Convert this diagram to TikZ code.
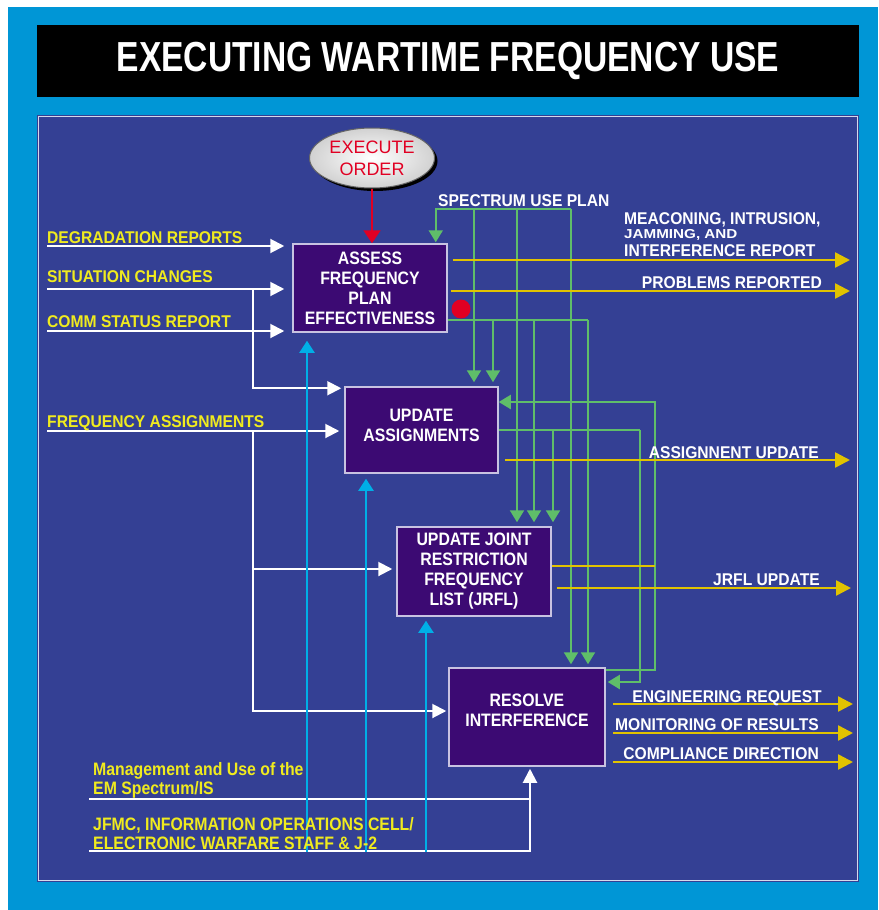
\documentclass[tikz,border=0pt]{standalone}
\usepackage{fontspec}
\newfontfamily\condfont[FakeStretch=0.88]{Liberation Sans}
\newfontfamily\labelfont[FakeStretch=0.92]{Liberation Sans}
\newfontfamily\widefont[FakeStretch=1.17]{Liberation Sans}
\newfontfamily\titlefont[FakeStretch=0.8]{Liberation Sans}
\newfontfamily\plainfont{Liberation Sans}
\usetikzlibrary{arrows.meta, positioning, shapes.geometric, shadows}
\definecolor{skyblue}{RGB}{0,150,214}
\definecolor{panelblue}{RGB}{52,64,148}
\definecolor{boxpurple}{RGB}{60,10,115}
\definecolor{boxedge}{RGB}{200,195,225}
\definecolor{flowgreen}{RGB}{95,190,105}
\definecolor{flowyellow}{RGB}{225,195,0}
\definecolor{labelyellow}{RGB}{240,235,30}
\definecolor{flowcyan}{RGB}{0,175,230}
\definecolor{alertred}{RGB}{225,0,35}

\begin{document}
\begin{tikzpicture}[x=1pt, y=-1pt,
    taskbox/.style={draw=boxedge, line width=1.5pt, fill=boxpurple, text=white,
        font=\condfont\bfseries\fontsize{18}{20}\selectfont, align=center, inner sep=0pt},
    inlabel/.style={text=labelyellow, font=\labelfont\bfseries\fontsize{17}{19}\selectfont, inner sep=0pt},
    outlabel/.style={text=white, font=\labelfont\bfseries\fontsize{17}{17}\selectfont, inner sep=0pt},
    wline/.style={white, line width=2pt},
    warrow/.style={wline, -{Triangle[length=14pt, width=14pt]}},
    gline/.style={flowgreen, line width=2pt},
    garrow/.style={gline, -{Triangle[length=12pt, width=14pt]}},
    yline/.style={flowyellow, line width=2.5pt},
    yarrow/.style={yline, -{Triangle[length=15pt, width=15pt]}},
    carrow/.style={flowcyan, line width=2pt, -{Triangle[length=12pt, width=15pt]}}
]
\useasboundingbox (0,0) rectangle (878,910);

% frame and title
\fill[white] (0,0) rectangle (878,910);
\fill[skyblue] (8,7) rectangle (878,910);
\node[fill=black, minimum width=822pt, minimum height=72pt, inner sep=0pt, text=white,
    font=\titlefont\bfseries\fontsize{42}{42}\selectfont] (title) at (448,61) {EXECUTING WARTIME FREQUENCY USE};
\fill[panelblue] (37,115) rectangle (859,882);
\draw[white!80!panelblue, line width=1.5pt] (38.5,116.5) rectangle (857.5,880.5);

% activities
\node[taskbox, minimum width=154pt, minimum height=88pt] (assess) at (370,288) {ASSESS\\FREQUENCY\\PLAN\\EFFECTIVENESS};
\node[taskbox, minimum width=153pt, minimum height=86pt, text depth=10pt] (upassign) at (421.5,430) {UPDATE\\ASSIGNMENTS};
\node[taskbox, minimum width=154pt, minimum height=89pt] (upjrfl) at (474,571.5) {UPDATE JOINT\\RESTRICTION\\FREQUENCY\\LIST (JRFL)};
\node[taskbox, minimum width=156pt, minimum height=98pt, text depth=14pt] (resolve) at (527,717) {RESOLVE\\INTERFERENCE};

\node[ellipse, draw=black!60, line width=1pt, inner color=white, outer color=black!18,
    drop shadow={shadow xshift=3pt, shadow yshift=-3pt, fill=black, opacity=1},
    minimum width=125pt, minimum height=60pt, inner sep=0pt, text=alertred, align=center,
    font=\plainfont\fontsize{18}{22}\selectfont] (exec) at (372,158) {EXECUTE\\ORDER};
\node[circle, fill=alertred, minimum size=19pt, inner sep=0pt] (alert) at (461,309) {};

\draw[alertred, line width=2pt, -{Triangle[length=13pt, width=17pt]}] (exec) -- (exec |- assess.north);

% inputs
\coordinate (degr) at (47,246);
\coordinate (situ) at (47,289);
\coordinate (comm) at (47,331);
\coordinate (freq) at (47,431);
\coordinate (situj) at (253,289);
\coordinate (freqj) at (253,431);
\coordinate (mgmt) at (89,799);
\coordinate (jfmc) at (89,851);

\draw[warrow, shorten >=8pt] (degr) -- (degr -| assess.west);
\draw[warrow, shorten >=8pt] (situ) -- (situ -| assess.west);
\draw[warrow, shorten >=8pt] (comm) -- (comm -| assess.west);
\draw[warrow, shorten >=3pt] (situj) |- ([yshift=-2pt]upassign.north west);
\draw[warrow, shorten >=5pt] (freq) -- (freq -| upassign.west);
\draw[warrow, shorten >=4pt] (freqj) |- (upjrfl.west |- 0,569);
\draw[warrow, shorten >=2pt] (freqj) |- (resolve.west |- 0,711);
\draw[wline] (mgmt) -- (mgmt -| 530,0);
\draw[warrow, shorten >=2pt] (jfmc) -| ([xshift=3pt]resolve.south);

% mechanisms
\coordinate (cy1) at (307,852);
\coordinate (cy2) at (366,852);
\coordinate (cy3) at (426,852);
\draw[carrow, shorten >=8pt] (cy1) -- (cy1 |- assess.south);
\draw[carrow, shorten >=5pt] (cy2) -- (cy2 |- upassign.south);
\draw[carrow, shorten >=4pt] (cy3) -- (cy3 |- upjrfl.south);

% controls
\coordinate (plan) at (571,209);
\draw[garrow, shorten >=1pt] (plan) -| ([xshift=-12pt]assess.north east);
\draw[garrow, shorten >=4pt] (474,209) -- (474,209 |- upassign.north);
\draw[garrow, shorten >=4pt] (517,209) -- (517,209 |- upjrfl.north);
\draw[garrow, shorten >=3pt] (plan) -- (plan |- resolve.north);
\draw[gline] (assess.east |- 0,320) -- (588,320);
\draw[garrow, shorten >=4pt] (493,320) -- (493,320 |- upassign.north);
\draw[garrow, shorten >=4pt] (534,320) -- (534,320 |- upjrfl.north);
\draw[garrow, shorten >=3pt] (588,320) -- (588,320 |- resolve.north);
\draw[gline] (upassign.east |- 0,430) -- (640,430);
\draw[garrow, shorten >=4pt] (553,430) -- (553,430 |- upjrfl.north);
\draw[garrow, shorten >=2pt] (640,430) |- (resolve.east |- 0,682);
\draw[garrow] (resolve.east |- 0,670) -| (655,402) -- (upassign.east |- 0,402);

% outputs
\coordinate (meaout) at (850,260);
\coordinate (probout) at (850,291);
\coordinate (assout) at (850,460);
\coordinate (jrflout) at (851,588);
\coordinate (engout) at (853,704);
\coordinate (monout) at (853,733);
\coordinate (compout) at (853,762);
\draw[yarrow, shorten <=5pt] (meaout -| assess.east) -- (meaout);
\draw[yarrow, shorten <=3pt] (probout -| assess.east) -- (probout);
\draw[yarrow, shorten <=6pt] (assout -| upassign.east) -- (assout);
\draw[yline] (upjrfl.east |- 0,566) -- (655,566);
\draw[yarrow, shorten <=5pt] (jrflout -| upjrfl.east) -- (jrflout);
\draw[yarrow, shorten <=7pt] (engout -| resolve.east) -- (engout);
\draw[yarrow, shorten <=7pt] (monout -| resolve.east) -- (monout);
\draw[yarrow, shorten <=7pt] (compout -| resolve.east) -- (compout);

% labels
\node[inlabel, anchor=base west] (degrlbl) at (47,243) {DEGRADATION REPORTS};
\node[inlabel, anchor=base west] (situlbl) at (47,282) {SITUATION CHANGES};
\node[inlabel, anchor=base west] (commlbl) at (47,327) {COMM STATUS REPORT};
\node[inlabel, anchor=base west] (freqlbl) at (47,427) {FREQUENCY ASSIGNMENTS};
\node[inlabel, font=\condfont\bfseries\fontsize{18}{19}\selectfont, align=left, anchor=north west] (mgmtlbl) at (93,762) {Management and Use of the\\EM Spectrum/IS};
\node[inlabel, font=\condfont\bfseries\fontsize{18}{19}\selectfont, align=left, anchor=north west] (jfmclbl) at (93,817) {JFMC, INFORMATION OPERATIONS CELL/\\ELECTRONIC WARFARE STAFF \& J-2};
\node[outlabel, anchor=base west] (planlbl) at (438,206) {SPECTRUM USE PLAN};
\node[outlabel, align=left, anchor=north west] (mealbl) at (624,212) {MEACONING, INTRUSION,\\[-3pt]{\widefont\fontsize{13}{13}\selectfont JAMMING, AND}\\[1pt]INTERFERENCE REPORT};
\node[outlabel, anchor=base east] (problbl) at (822,288) {PROBLEMS REPORTED};
\node[outlabel, anchor=base east] (asslbl) at (819,458) {ASSIGNNENT UPDATE};
\node[outlabel, anchor=base east] (jrfllbl) at (820,585) {JRFL UPDATE};
\node[outlabel, anchor=base east] (englbl) at (822,702) {ENGINEERING REQUEST};
\node[outlabel, anchor=base east] (monlbl) at (819,730) {MONITORING OF RESULTS};
\node[outlabel, anchor=base east] (complbl) at (819,759) {COMPLIANCE DIRECTION};
\end{tikzpicture}
\end{document}
